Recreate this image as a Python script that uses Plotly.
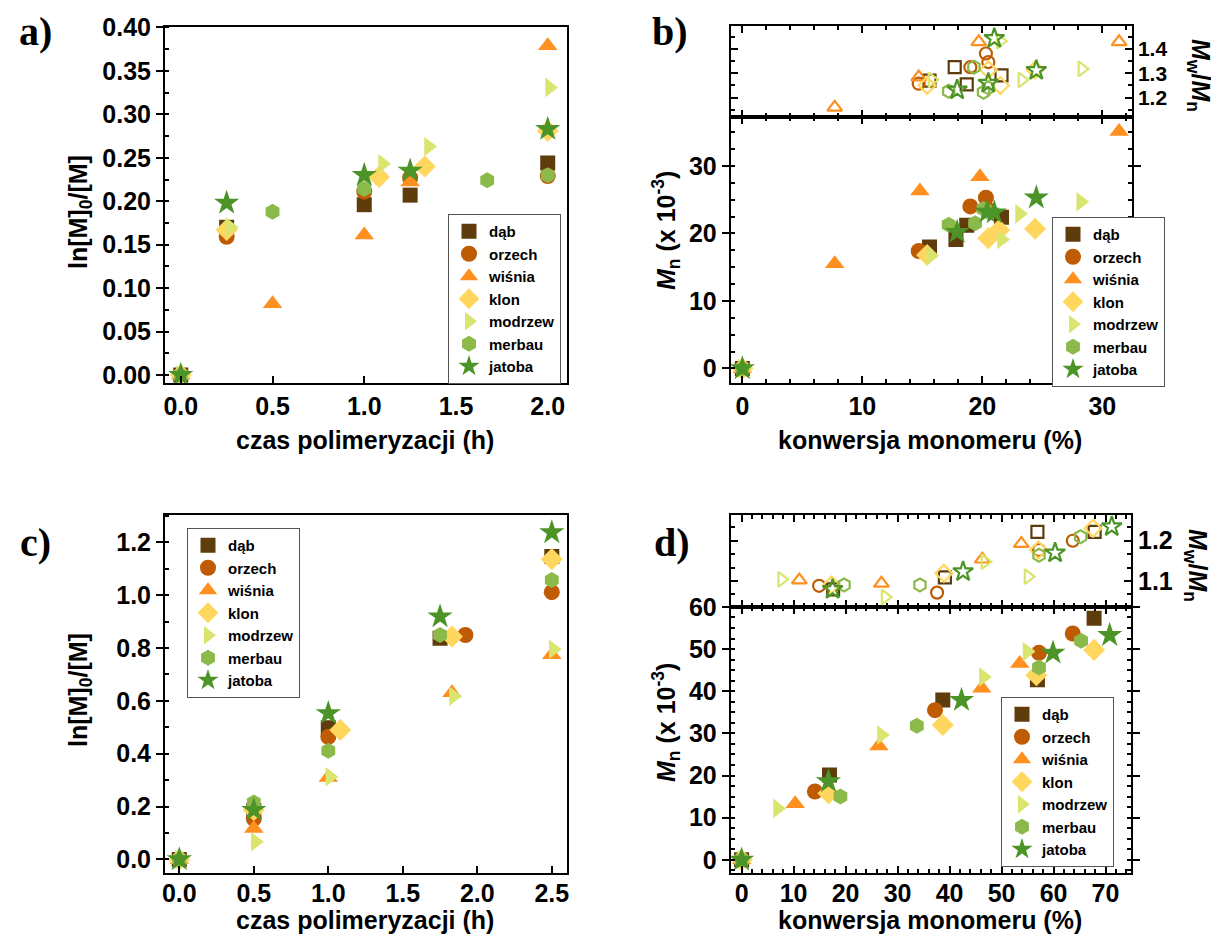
import plotly.graph_objects as go

W, H = 1211, 932   # figure size; the page places it 8 px from the top-left corner
OFF = 8

names = ["dąb", "orzech", "wiśnia", "klon", "modrzew", "merbau", "jatoba"]
colors = ["#5E3C0C", "#BF5B04", "#FF8F1F", "#FFD75E", "#D9E56E", "#8CBA4A", "#4C9428"]
symbols = ["square", "circle", "triangle-up", "diamond", "triangle-right", "hexagon", "star"]

# panel a: time (h) vs ln[M]0/[M]
a_t = [
    [0, 0.25, 1.0, 1.25, 2.0],
    [0, 0.25, 1.0, 1.25, 2.0],
    [0, 0.5, 1.0, 1.25, 2.0],
    [0, 0.25, 1.08, 1.33, 2.0],
    [0, 0.27, 1.1, 1.35, 2.01],
    [0, 0.5, 1.0, 1.67, 2.0],
    [0, 0.25, 1.0, 1.25, 2.0],
]
a_ln = [
    [0, 0.170, 0.196, 0.207, 0.244],
    [0, 0.159, 0.211, 0.227, 0.229],
    [0, 0.082, 0.161, 0.222, 0.379],
    [0, 0.167, 0.228, 0.240, 0.281],
    [0, 0.170, 0.243, 0.263, 0.331],
    [0, 0.188, 0.214, 0.224, 0.230],
    [0, 0.198, 0.230, 0.235, 0.283],
]

# panel b bottom: conversion (%) vs Mn (x 10^-3)
b_conv = [
    [0, 15.6, 17.8, 18.7, 21.6],
    [0, 14.7, 19.0, 20.3, 20.5],
    [0, 7.7, 14.8, 19.8, 31.4],
    [0, 15.4, 20.5, 21.4, 24.4],
    [0, 15.7, 21.6, 23.1, 28.2],
    [0, 17.2, 19.4, 20.1, 20.5],
    [0, 17.9, 20.4, 21.0, 24.5],
]
b_mn = [
    [0, 18.0, 19.1, 21.2, 22.4],
    [0, 17.4, 24.0, 25.3, 23.5],
    [0, 15.5, 26.3, 28.4, 35.1],
    [0, 16.8, 19.3, 20.5, 20.7],
    [0, 16.7, 19.1, 22.9, 24.7],
    [0, 21.3, 21.5, 23.6, 23.2],
    [0, 20.2, 23.2, 23.1, 25.3],
]
# panel b top: conversion (%) vs Mw/Mn
b_pconv = [
    [15.6, 17.7, 18.7, 21.6],
    [14.7, 19.0, 20.3, 20.5],
    [7.7, 14.7, 19.7, 31.4],
    [15.4, 20.5, 21.5, 24.4],
    [15.8, 21.5, 23.3, 28.3],
    [17.2, 19.3, 20.1, 20.5],
    [17.9, 20.5, 21.0, 24.5],
]
b_pdi = [
    [1.270, 1.325, 1.254, 1.291],
    [1.257, 1.325, 1.381, 1.346],
    [1.160, 1.284, 1.429, 1.429],
    [1.250, 1.314, 1.250, 1.314],
    [1.273, 1.432, 1.273, 1.318],
    [1.226, 1.325, 1.222, 1.240],
    [1.232, 1.259, 1.443, 1.312],
]

# panel c: time (h) vs ln[M]0/[M]
c_t = [
    [0, 0.5, 1.0, 1.75, 2.5],
    [0, 0.5, 1.0, 1.92, 2.5],
    [0, 0.5, 1.0, 1.83, 2.5],
    [0, 0.5, 1.08, 1.83, 2.5],
    [0, 0.51, 1.01, 1.84, 2.51],
    [0, 0.5, 1.0, 1.75, 2.5],
    [0, 0.5, 1.0, 1.75, 2.5],
]
c_ln = [
    [0, 0.185, 0.498, 0.837, 1.146],
    [0, 0.155, 0.464, 0.849, 1.011],
    [0, 0.117, 0.310, 0.631, 0.774],
    [0, 0.187, 0.490, 0.843, 1.136],
    [0, 0.067, 0.313, 0.618, 0.795],
    [0, 0.216, 0.411, 0.849, 1.057],
    [0, 0.187, 0.553, 0.919, 1.237],
]

# panel d bottom
d_conv = [
    [0, 16.9, 38.7, 56.9, 67.8],
    [0, 14.1, 37.2, 57.2, 63.7],
    [0, 10.3, 26.4, 46.2, 53.5],
    [0, 16.7, 38.7, 56.7, 67.8],
    [0, 6.9, 26.9, 46.5, 54.9],
    [0, 19.0, 33.7, 57.2, 65.3],
    [0, 16.7, 42.3, 59.9, 70.8],
]
d_mn = [
    [0, 20.1, 37.9, 42.7, 57.3],
    [0, 16.2, 35.5, 49.1, 53.7],
    [0, 13.3, 27.0, 40.7, 46.6],
    [0, 15.8, 32.0, 43.8, 49.8],
    [0, 12.2, 29.6, 43.4, 49.4],
    [0, 15.0, 31.8, 45.6, 52.0],
    [0, 18.6, 37.9, 49.1, 53.3],
]
# panel d top
d_pconv = [
    [17.6, 39.1, 56.9, 67.9],
    [14.9, 37.6, 57.2, 63.7],
    [11.1, 26.9, 46.3, 53.8],
    [17.3, 38.9, 57.1, 67.6],
    [7.7, 27.6, 46.8, 55.1],
    [19.7, 34.3, 57.2, 65.2],
    [17.5, 42.6, 60.3, 71.2],
]
d_pdi = [
    [1.079, 1.109, 1.222, 1.222],
    [1.088, 1.071, 1.177, 1.200],
    [1.102, 1.094, 1.154, 1.193],
    [1.090, 1.119, 1.177, 1.231],
    [1.104, 1.060, 1.148, 1.111],
    [1.090, 1.090, 1.164, 1.210],
    [1.079, 1.123, 1.170, 1.235],
]

FONT = "Liberation Sans"


def px(x):
    return (x - OFF) / W


def py(y):
    return 1 - (y - OFF) / H


fig = go.Figure()

msize = [15, 16, 17, 17, 17, 16, 19]
osize = [12, 12, 13, 13, 13, 13, 15]

for i in range(7):
    fig.add_trace(go.Scatter(x=a_t[i], y=a_ln[i], mode="markers", name=names[i],
                             marker=dict(symbol=symbols[i], color=colors[i], size=msize[i]),
                             xaxis="x", yaxis="y", legend="legend"))
    fig.add_trace(go.Scatter(x=b_conv[i], y=b_mn[i], mode="markers", name=names[i],
                             marker=dict(symbol=symbols[i], color=colors[i], size=msize[i]),
                             xaxis="x2", yaxis="y2", legend="legend2"))
    fig.add_trace(go.Scatter(x=b_pconv[i], y=b_pdi[i], mode="markers", name=names[i],
                             marker=dict(symbol=symbols[i] + "-open", color=colors[i], size=osize[i],
                                         line=dict(width=2.2, color=colors[i])),
                             xaxis="x3", yaxis="y3", showlegend=False))
    fig.add_trace(go.Scatter(x=c_t[i], y=c_ln[i], mode="markers", name=names[i],
                             marker=dict(symbol=symbols[i], color=colors[i], size=msize[i]),
                             xaxis="x4", yaxis="y4", legend="legend3"))
    fig.add_trace(go.Scatter(x=d_conv[i], y=d_mn[i], mode="markers", name=names[i],
                             marker=dict(symbol=symbols[i], color=colors[i], size=msize[i]),
                             xaxis="x5", yaxis="y5", legend="legend4"))
    fig.add_trace(go.Scatter(x=d_pconv[i], y=d_pdi[i], mode="markers", name=names[i],
                             marker=dict(symbol=symbols[i] + "-open", color=colors[i], size=osize[i],
                                         line=dict(width=2.2, color=colors[i])),
                             xaxis="x6", yaxis="y6", showlegend=False))

tickfont = dict(family=FONT, size=25, color="black", weight="bold")
smalltick = dict(family=FONT, size=21, color="black", weight="bold")


def ax(domain, rng, dtick, minor_dtick=None, ticks="outside", minor_ticks="inside",
       labels=True, side=None, anchor=None, mirror="ticks", fmt=None, standoff=None, font=tickfont):
    d = dict(domain=domain, range=rng, dtick=dtick, tick0=0, showgrid=False, zeroline=False,
             showline=True, linecolor="black", linewidth=2, mirror=mirror,
             ticks=ticks, ticklen=7, tickwidth=2, tickcolor="black",
             showticklabels=labels, tickfont=font, anchor=anchor, automargin=False)
    if minor_dtick:
        d["minor"] = dict(dtick=minor_dtick, tick0=0, ticks=minor_ticks, ticklen=4, tickwidth=1.5,
                          tickcolor="black", showgrid=False)
    if side:
        d["side"] = side
    if fmt:
        d["tickformat"] = fmt
    if standoff is not None:
        d["ticklabelstandoff"] = standoff
    return d


xa = [px(165), px(567)]
xb = [px(730.7), px(1131.7)]
xc = [px(165), px(566.7)]
xd = [px(730.7), px(1131)]

fig.update_layout(
    xaxis=ax(xa, [-0.086, 2.105], 0.5, ticks="inside", anchor="y", mirror=True, fmt=".1f"),
    yaxis=ax([py(383), py(27)], [-0.0092, 0.4005], 0.05, 0.025, anchor="x", mirror=True, fmt=".2f"),
    xaxis2=ax(xb, [-0.97, 32.45], 10, 2, ticks="inside", anchor="y2"),
    yaxis2=ax([py(383.3), py(117.3)], [-2.2, 37.2], 10, 2.5, anchor="x2"),
    xaxis3=ax(xb, [-0.97, 32.45], 10, 2, ticks="inside", labels=False, anchor="y3"),
    yaxis3=ax([py(117.3), py(26)], [1.119, 1.494], 0.1, 0.05, ticks="inside", side="right",
              anchor="x3", font=smalltick),
    xaxis4=ax(xc, [-0.096, 2.6], 0.5, ticks="inside", anchor="y4", mirror=True, fmt=".1f", standoff=-3),
    yaxis4=ax([py(872.7), py(515)], [-0.05, 1.303], 0.2, 0.1, anchor="x4", mirror=True, fmt=".1f"),
    xaxis5=ax(xd, [-2.1, 74.9], 10, 2, ticks="inside", anchor="y5", standoff=-3),
    yaxis5=ax([py(873.3), py(606.7)], [-3.2, 60.05], 10, 2.5, anchor="x5"),
    xaxis6=ax(xd, [-2.1, 74.9], 10, 2, ticks="inside", labels=False, anchor="y6"),
    yaxis6=ax([py(606.7), py(515)], [1.036, 1.264], 0.1, 1 / 30, ticks="inside", side="right",
              anchor="x6", font=tickfont),
)

legfont = dict(family=FONT, size=15, color="black", weight="bold")
leg_common = dict(font=legfont, bgcolor="rgba(255,255,255,1)", bordercolor="#555", borderwidth=1,
                  xanchor="left", yanchor="top", itemsizing="trace", tracegroupgap=0)
fig.update_layout(
    legend=dict(x=px(448), y=py(214), **leg_common),
    legend2=dict(x=px(1052), y=py(217), **leg_common),
    legend3=dict(x=px(187), y=py(528), **leg_common),
    legend4=dict(x=px(1001), y=py(697), **leg_common),
)

ann = []
titlefont = dict(family=FONT, size=25, color="black", weight="bold")


def add_text(text, x, y, angle=0, font=titlefont):
    ann.append(dict(text=text, x=px(x), y=py(y), xref="paper", yref="paper", showarrow=False,
                    textangle=angle, font=font, xanchor="center", yanchor="middle"))


add_text("ln[M]<sub>0</sub>/[M]", 80, 212, -90)
add_text("czas polimeryzacji (h)", 365, 440)
add_text("<i>M</i><sub>n</sub> (x 10<sup>-3</sup>)", 666, 230, -90)
add_text("konwersja monomeru (%)", 930, 440)
add_text("<i>M</i><sub>w</sub>/<i>M</i><sub>n</sub>", 1199, 75, 90)
add_text("ln[M]<sub>0</sub>/[M]", 80, 690, -90)
add_text("czas polimeryzacji (h)", 365, 920)
add_text("<i>M</i><sub>n</sub> (x 10<sup>-3</sup>)", 666, 722, -90)
add_text("konwersja monomeru (%)", 930, 920)
add_text("<i>M</i><sub>w</sub>/<i>M</i><sub>n</sub>", 1196, 565, 90)

labfont = dict(family="Liberation Serif", size=40, color="black", weight="bold")
add_text("a)", 35, 32, font=labfont)
add_text("b)", 670, 32, font=labfont)
add_text("c)", 35, 542, font=labfont)
add_text("d)", 672, 542, font=labfont)

fig.update_layout(annotations=ann, width=W, height=H,
                  margin=dict(l=0, r=0, t=0, b=0, pad=0, autoexpand=False),
                  paper_bgcolor="white", plot_bgcolor="white", showlegend=True)

fig.write_html("out.html")
